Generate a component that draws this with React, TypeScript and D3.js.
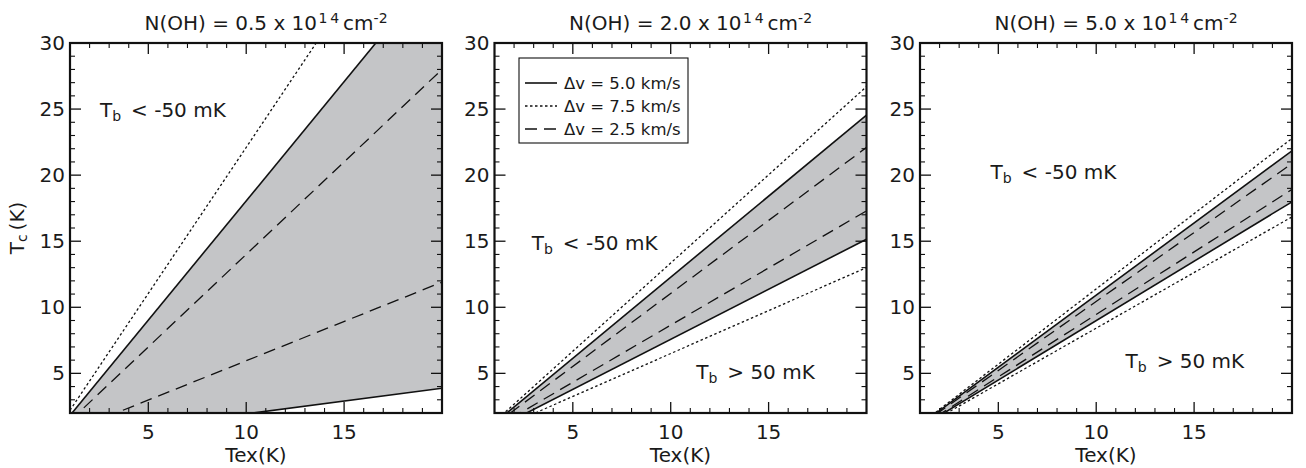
import React from "react";
import * as d3 from "d3";

// ---- data ----
const texDomain = [1, 20];
const tcDomain = [2, 30];
const columnDensities = ["0.5", "2.0", "5.0"];
const xMajorTicks = [5, 10, 15];
const yMajorTicks = [5, 10, 15, 20, 25, 30];
const minorStep = 1;
// Tc (K) at Tex = 1 K and Tex = 20 K for each boundary curve, per panel
const lineTex = [1, 20];
const solidUpper = [[1.81, 36.1], [1.227, 24.55], [1.092, 21.84]];
const solidLower = [[0.19, 3.87], [0.757, 15.15], [0.899, 17.98]];
const dottedUpper = [[2.21, 44.2], [1.335, 26.7], [1.139, 22.78]];
const dottedLower = [null, [0.65, 13.0], [0.842, 16.84]];
const dashedUpper = [[1.4, 28.0], [1.105, 22.1], [1.044, 20.88]];
const dashedLower = [[0.6, 11.9], [0.865, 17.3], [0.946, 18.92]];
// label anchors (Tex, Tc)
const belowLabels = [[2.53, 24.4], [2.9, 14.3], [4.6, 19.7]];
const aboveLabels = [null, [11.3, 4.6], [11.5, 5.4]];
const legendItems = [
  { label: "Δv = 5.0 km/s", dash: "none" },
  { label: "Δv = 7.5 km/s", dash: "2.5,2.5" },
  { label: "Δv = 2.5 km/s", dash: "12,7" },
];

const FONT = "DejaVu Sans, Verdana, sans-serif";
const TEXT = "#1a1a1a";
const panelLeft = [70, 494.5, 920];
const panelWidth = 372;
const top = 43;
const bottom = 413;
const fillColor = "#c4c5c7";

function Panel({ i }: { i: number }) {
  const x0 = panelLeft[i];
  const x = d3.scaleLinear().domain(texDomain).range([x0, x0 + panelWidth]);
  const y = d3.scaleLinear().domain(tcDomain).range([bottom, top]);
  const line = d3
    .line<number>()
    .x((_, k) => x(lineTex[k]))
    .y((d) => y(d));
  const clipId = `clip${i}`;
  const up = solidUpper[i];
  const lo = solidLower[i];
  const poly = [
    [x(lineTex[0]), y(up[0])],
    [x(lineTex[1]), y(up[1])],
    [x(lineTex[1]), y(lo[1])],
    [x(lineTex[0]), y(lo[0])],
  ];
  const minorX = d3.range(texDomain[0] + minorStep, texDomain[1], minorStep).filter((v) => !xMajorTicks.includes(v));
  const minorY = d3.range(tcDomain[0] + minorStep, tcDomain[1], minorStep).filter((v) => !yMajorTicks.includes(v));
  const majL = 11;
  const minL = 5;
  const xR = x0 + panelWidth;
  const lines: { d: number[] | null; dash: string }[] = [
    { d: dottedUpper[i], dash: "2.5,2.5" },
    { d: dottedLower[i], dash: "2.5,2.5" },
    { d: dashedUpper[i], dash: "12,7" },
    { d: dashedLower[i], dash: "12,7" },
    { d: solidUpper[i], dash: "none" },
    { d: solidLower[i], dash: "none" },
  ];
  const bl = belowLabels[i];
  const al = aboveLabels[i];
  const cx = (x0 + xR) / 2;
  return (
    <g>
      <defs>
        <clipPath id={clipId}>
          <rect x={x0} y={top} width={panelWidth} height={bottom - top} />
        </clipPath>
      </defs>
      <g clipPath={`url(#${clipId})`}>
        <polygon points={poly.map((p) => p.join(",")).join(" ")} fill={fillColor} />
        {lines.map((l, k) =>
          l.d ? (
            <path
              key={k}
              d={line(l.d) || ""}
              fill="none"
              stroke="#111"
              strokeWidth={l.dash === "none" ? 1.6 : 1.3}
              strokeDasharray={l.dash}
            />
          ) : null
        )}
      </g>
      {/* ticks */}
      {xMajorTicks.map((t) => (
        <g key={"xM" + t}>
          <line x1={x(t)} x2={x(t)} y1={bottom} y2={bottom - majL} stroke="#111" strokeWidth={1.3} />
          <line x1={x(t)} x2={x(t)} y1={top} y2={top + majL} stroke="#111" strokeWidth={1.3} />
          <text x={x(t)} y={bottom + 26} textAnchor="middle" fontSize={20} fontFamily={FONT} fill={TEXT}>
            {t}
          </text>
        </g>
      ))}
      {minorX.map((t) => (
        <g key={"xm" + t}>
          <line x1={x(t)} x2={x(t)} y1={bottom} y2={bottom - minL} stroke="#111" strokeWidth={1.1} />
          <line x1={x(t)} x2={x(t)} y1={top} y2={top + minL} stroke="#111" strokeWidth={1.1} />
        </g>
      ))}
      {yMajorTicks.map((t) => (
        <g key={"yM" + t}>
          <line x1={x0} x2={x0 + majL} y1={y(t)} y2={y(t)} stroke="#111" strokeWidth={1.3} />
          <line x1={xR} x2={xR - majL} y1={y(t)} y2={y(t)} stroke="#111" strokeWidth={1.3} />
          <text x={x0 - 5} y={y(t) + 7} textAnchor="end" fontSize={20} fontFamily={FONT} fill={TEXT}>
            {t}
          </text>
        </g>
      ))}
      {minorY.map((t) => (
        <g key={"ym" + t}>
          <line x1={x0} x2={x0 + minL} y1={y(t)} y2={y(t)} stroke="#111" strokeWidth={1.1} />
          <line x1={xR} x2={xR - minL} y1={y(t)} y2={y(t)} stroke="#111" strokeWidth={1.1} />
        </g>
      ))}
      <rect x={x0} y={top} width={panelWidth} height={bottom - top} fill="none" stroke="#111" strokeWidth={2.2} />
      {/* region labels */}
      <text x={x(bl[0])} y={y(bl[1])} fontSize={20} fontFamily={FONT} fill={TEXT}>
        <tspan>T</tspan>
        <tspan fontSize={14} dy={4}>b</tspan>
        <tspan dy={-4}>{"\u2002< -50 mK"}</tspan>
      </text>
      {al && (
        <text x={x(al[0])} y={y(al[1])} fontSize={20} fontFamily={FONT} fill={TEXT}>
          <tspan>T</tspan>
          <tspan fontSize={14} dy={4}>b</tspan>
          <tspan dy={-4}>{"\u2002> 50 mK"}</tspan>
        </text>
      )}
      {/* title */}
      <text x={cx + 10} y={30} textAnchor="middle" fontSize={20} fontFamily={FONT} fill={TEXT}>
        <tspan>{`N(OH) = ${columnDensities[i]} x 10`}</tspan>
        <tspan fontSize={14} dy={-7}>{"\u200a1\u20094"}</tspan>
        <tspan dy={7}>{"\u2009cm"}</tspan>
        <tspan fontSize={14} dy={-7}>{"-2"}</tspan>
      </text>
      {/* x label */}
      <text x={cx} y={462} textAnchor="middle" fontSize={20} fontFamily={FONT} fill={TEXT}>
        {"Tex(K)"}
      </text>
    </g>
  );
}

function Legend() {
  const lx = 519;
  const ly = 58;
  const w = 169;
  const h = 85;
  const rowY = [83, 106, 129];
  return (
    <g>
      <rect x={lx} y={ly} width={w} height={h} fill="#fff" stroke="#111" strokeWidth={1.1} />
      {legendItems.map((it, k) => (
        <g key={k}>
          <line x1={525} x2={557} y1={rowY[k]} y2={rowY[k]} stroke="#111" strokeWidth={it.dash === "none" ? 1.6 : 1.3} strokeDasharray={it.dash} />
          <text x={564} y={rowY[k] + 6} fontSize={16.5} fontFamily={FONT} fill={TEXT}>
            {it.label}
          </text>
        </g>
      ))}
    </g>
  );
}

export default function App() {
  return (
    <svg
      width={1306}
      height={468}
      style={{ position: "absolute", left: 0, top: 0, background: "#fff" }}
    >
      <rect width={1306} height={468} fill="#fff" />
      {[0, 1, 2].map((i) => (
        <Panel key={i} i={i} />
      ))}
      <Legend />
      <text transform={`translate(24,228) rotate(-90)`} textAnchor="middle" fontSize={20} fontFamily={FONT} fill={TEXT}>
        <tspan>T</tspan>
        <tspan fontSize={14} dy={3}>c</tspan>
        <tspan dy={-3}>{"\u2009(K)"}</tspan>
      </text>
    </svg>
  );
}
